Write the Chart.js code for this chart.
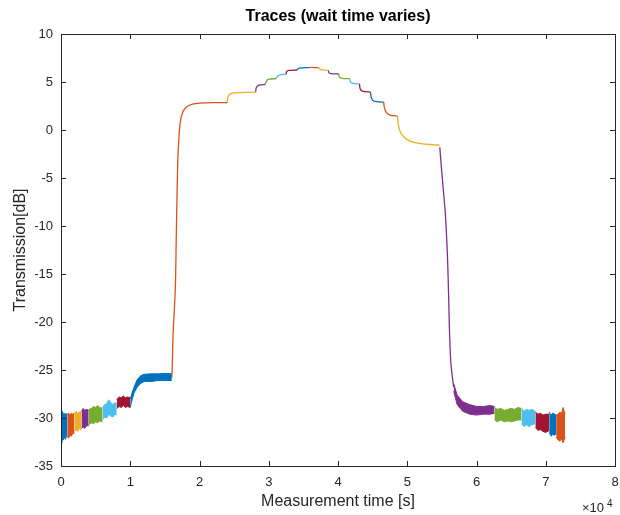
<!DOCTYPE html>
<html>
<head>
<meta charset="utf-8">
<script src="https://cdn.jsdelivr.net/npm/chart.js@4.4.1/dist/chart.umd.min.js"></script>
<style>
  body { margin: 0; background: #fff; }
  canvas { display: block; }
</style>
</head>
<body>
<canvas id="traceChart" width="620" height="515"></canvas>
<script>
// time in units of 1e4 s, transmission in dB
const xTicks = [0, 1, 2, 3, 4, 5, 6, 7, 8];
const yTicks = [-35, -30, -25, -20, -15, -10, -5, 0, 5, 10];

const BLUE = '#0072BD', ORANGE = '#D95319', YELLOW = '#EDB120', PURPLE = '#7E2F8E',
      GREEN = '#77AC30', CYAN = '#4DBEEE', RED = '#A2142F';

// noisy segments: x, upper envelope, lower envelope
const band1X = [0, 0.01, 0.02, 0.035, 0.045, 0.06, 0.07, 0.09];
const band1Hi = [-29.8, -29.6, -29.3, -29.7, -29.5, -29.8, -29.5, -29.7];
const band1Lo = [-32.0, -32.6, -32.1, -32.3, -31.9, -32.2, -31.8, -32.0];
const band2X = [0.09, 0.11, 0.13, 0.15, 0.17, 0.195];
const band2Hi = [-29.6, -29.5, -29.7, -29.5, -29.6, -29.5];
const band2Lo = [-31.9, -32.1, -31.8, -31.9, -31.6, -31.6];
const band3X = [0.195, 0.22, 0.24, 0.26, 0.295];
const band3Hi = [-29.5, -29.3, -29.5, -29.4, -29.3];
const band3Lo = [-31.4, -31.2, -31.4, -31.1, -31.2];
const band4X = [0.295, 0.32, 0.34, 0.37, 0.40];
const band4Hi = [-29.3, -29.0, -29.2, -29.1, -29.2];
const band4Lo = [-31.1, -30.9, -31.1, -30.8, -30.8];
const band5X = [0.40, 0.44, 0.47, 0.50, 0.53, 0.56, 0.60];
const band5Hi = [-29.1, -29.0, -28.8, -28.9, -28.7, -28.9, -29.0];
const band5Lo = [-30.7, -30.5, -30.6, -30.4, -30.5, -30.3, -30.4];
const band6X = [0.60, 0.63, 0.66, 0.69, 0.72, 0.75, 0.78, 0.805];
const band6Hi = [-28.9, -28.6, -28.5, -28.1, -28.4, -28.6, -28.4, -28.5];
const band6Lo = [-30.2, -29.9, -30.0, -29.6, -29.8, -29.9, -29.6, -29.7];
const band7X = [0.805, 0.84, 0.87, 0.9, 0.93, 0.96, 1.0];
const band7Hi = [-28.1, -27.8, -27.9, -27.7, -27.9, -27.8, -27.9];
const band7Lo = [-29.0, -28.8, -28.9, -28.7, -28.9, -28.8, -28.9];
const band8X = [1.0, 1.03, 1.06, 1.1, 1.15, 1.2, 1.3, 1.4, 1.5, 1.6];
const band8Hi = [-28.0, -27.3, -26.7, -26.0, -25.6, -25.45, -25.4, -25.4, -25.35, -25.4];
const band8Lo = [-28.9, -28.0, -27.3, -26.8, -26.4, -26.2, -26.2, -26.1, -26.1, -26.1];

const band9X = [5.67, 5.72, 5.8, 5.9, 6.0, 6.1, 6.2, 6.26];
const band9Hi = [-26.4, -27.6, -28.3, -28.6, -28.8, -28.8, -28.7, -28.8];
const band9Lo = [-27.2, -28.6, -29.3, -29.6, -29.7, -29.6, -29.6, -29.5];
const band10X = [6.26, 6.3, 6.35, 6.4, 6.45, 6.5, 6.55, 6.6, 6.65];
const band10Hi = [-28.9, -29.1, -29.0, -29.2, -29.1, -29.0, -29.1, -28.9, -29.0];
const band10Lo = [-30.2, -30.4, -30.2, -30.4, -30.3, -30.4, -30.3, -30.2, -30.2];
const band11X = [6.65, 6.69, 6.72, 6.76, 6.8, 6.85];
const band11Hi = [-29.0, -29.3, -29.1, -29.2, -29.1, -29.3];
const band11Lo = [-30.6, -30.9, -30.7, -30.9, -30.7, -30.6];
const band12X = [6.85, 6.89, 6.92, 6.96, 7.0, 7.05];
const band12Hi = [-29.4, -29.6, -29.5, -29.7, -29.6, -29.6];
const band12Lo = [-31.0, -31.3, -31.2, -31.4, -31.5, -31.3];
const band13X = [7.05, 7.08, 7.1, 7.13, 7.15];
const band13Hi = [-29.4, -29.7, -29.5, -29.6, -29.7];
const band13Lo = [-31.5, -31.9, -31.7, -31.8, -31.6];
const band14X = [7.15, 7.18, 7.2, 7.23, 7.25, 7.28];
const band14Hi = [-29.7, -29.6, -29.4, -29.5, -28.9, -29.6];
const band14Lo = [-32.0, -32.3, -32.4, -32.2, -32.6, -32.0];

// smooth segments
const seg1X = [1.6, 1.605, 1.62, 1.65, 1.665, 1.677, 1.69, 1.72, 1.76, 1.82, 1.9, 2.0, 2.2, 2.4];
const seg1Y = [-25.8, -25.0, -21.0, -16.7, -11.0, -6.3, -2.5, 0.7, 1.9, 2.45, 2.7, 2.8, 2.85, 2.85];
const seg2X = [2.4, 2.41, 2.43, 2.47, 2.6, 2.81];
const seg2Y = [2.85, 3.4, 3.7, 3.85, 3.9, 3.95];
const seg3X = [2.81, 2.82, 2.85, 2.95];
const seg3Y = [3.95, 4.4, 4.65, 4.75];
const seg4X = [2.95, 2.97, 3.0, 3.11];
const seg4Y = [4.75, 5.15, 5.3, 5.35];
const seg5X = [3.11, 3.13, 3.16, 3.25];
const seg5Y = [5.35, 5.65, 5.75, 5.8];
const seg6X = [3.25, 3.26, 3.29, 3.41];
const seg6Y = [5.8, 6.1, 6.2, 6.25];
const seg7X = [3.41, 3.43, 3.47, 3.58];
const seg7Y = [6.25, 6.42, 6.48, 6.5];
const seg8X = [3.58, 3.6, 3.72];
const seg8Y = [6.5, 6.52, 6.5];
const seg9X = [3.72, 3.74, 3.78, 3.86];
const seg9Y = [6.5, 6.32, 6.26, 6.22];
const seg10X = [3.86, 3.87, 3.9, 4.01];
const seg10Y = [6.22, 5.95, 5.88, 5.85];
const seg11X = [4.01, 4.02, 4.06, 4.17];
const seg11Y = [5.85, 5.5, 5.38, 5.35];
const seg12X = [4.17, 4.18, 4.22, 4.31];
const seg12Y = [5.35, 5.0, 4.85, 4.8];
const seg13X = [4.31, 4.32, 4.35, 4.47];
const seg13Y = [4.8, 4.3, 4.05, 3.95];
const seg14X = [4.47, 4.48, 4.51, 4.56, 4.66];
const seg14Y = [3.95, 3.4, 3.05, 2.95, 2.9];
const seg15X = [4.66, 4.67, 4.7, 4.75, 4.86];
const seg15Y = [2.9, 2.3, 1.8, 1.55, 1.45];
const seg16X = [4.86, 4.87, 4.9, 4.95, 5.0, 5.1, 5.2, 5.35, 5.47];
const seg16Y = [1.45, 0.6, -0.2, -0.7, -1.0, -1.3, -1.42, -1.52, -1.58];
const seg17X = [5.47, 5.5, 5.53, 5.55, 5.58, 5.6, 5.61, 5.63, 5.67];
const seg17Y = [-1.8, -4.5, -7.0, -8.7, -13.0, -18.0, -20.9, -24.3, -26.8];

const bands = [
  [band1X, band1Hi, band1Lo, BLUE], [band2X, band2Hi, band2Lo, ORANGE],
  [band3X, band3Hi, band3Lo, YELLOW], [band4X, band4Hi, band4Lo, PURPLE],
  [band5X, band5Hi, band5Lo, GREEN], [band6X, band6Hi, band6Lo, CYAN],
  [band7X, band7Hi, band7Lo, RED], [band8X, band8Hi, band8Lo, BLUE],
  [band9X, band9Hi, band9Lo, PURPLE], [band10X, band10Hi, band10Lo, GREEN],
  [band11X, band11Hi, band11Lo, CYAN], [band12X, band12Hi, band12Lo, RED],
  [band13X, band13Hi, band13Lo, BLUE], [band14X, band14Hi, band14Lo, ORANGE]
];
const segments = [
  [seg1X, seg1Y, ORANGE], [seg2X, seg2Y, YELLOW], [seg3X, seg3Y, PURPLE],
  [seg4X, seg4Y, GREEN], [seg5X, seg5Y, CYAN], [seg6X, seg6Y, RED],
  [seg7X, seg7Y, BLUE], [seg8X, seg8Y, ORANGE], [seg9X, seg9Y, YELLOW],
  [seg10X, seg10Y, PURPLE], [seg11X, seg11Y, GREEN], [seg12X, seg12Y, CYAN],
  [seg13X, seg13Y, RED], [seg14X, seg14Y, BLUE], [seg15X, seg15Y, ORANGE],
  [seg16X, seg16Y, YELLOW], [seg17X, seg17Y, PURPLE]
];

const zip = (xs, ys) => xs.map((x, i) => ({ x: x, y: ys[i] }));

const datasets = [];
bands.forEach(([xs, hi, lo, color]) => {
  datasets.push({ data: zip(xs, hi), borderColor: color, borderWidth: 1, fill: false });
  datasets.push({ data: zip(xs, lo), borderColor: color, borderWidth: 1, backgroundColor: color, fill: '-1' });
});
segments.forEach(([xs, ys, color]) => {
  datasets.push({ data: zip(xs, ys), borderColor: color, borderWidth: 1.3, fill: false, tension: 0.3 });
});

const FONT = "'Liberation Sans', Arial, sans-serif";
const INK = '#262626';

// MATLAB-like box with inward ticks and the x exponent
const boxPlugin = {
  id: 'boxPlugin',
  afterDraw(chart) {
    const { ctx, chartArea: a, scales } = chart;
    ctx.save();
    ctx.strokeStyle = INK;
    ctx.lineWidth = 1;
    ctx.strokeRect(Math.round(a.left) + 0.5, Math.round(a.top) + 0.5,
      Math.round(a.right - a.left), Math.round(a.bottom - a.top));
    const len = 5;
    ctx.beginPath();
    xTicks.forEach(v => {
      const px = Math.round(scales.x.getPixelForValue(v)) + 0.5;
      ctx.moveTo(px, a.bottom); ctx.lineTo(px, a.bottom - len);
      ctx.moveTo(px, a.top); ctx.lineTo(px, a.top + len);
    });
    yTicks.forEach(v => {
      const py = Math.round(scales.y.getPixelForValue(v)) + 0.5;
      ctx.moveTo(a.left, py); ctx.lineTo(a.left + len, py);
      ctx.moveTo(a.right, py); ctx.lineTo(a.right - len, py);
    });
    ctx.stroke();
    ctx.fillStyle = INK;
    ctx.textBaseline = 'alphabetic';
    ctx.font = '13px ' + FONT;
    ctx.fillText('\u00d710', 582, 512);
    ctx.font = '10px ' + FONT;
    ctx.fillText('4', 607, 507);
    ctx.restore();
  }
};

new Chart(document.getElementById('traceChart'), {
  type: 'line',
  data: { datasets: datasets },
  options: {
    responsive: false,
    animation: false,
    devicePixelRatio: 1,
    elements: { point: { radius: 0 } },
    layout: { padding: { left: 0, right: 5, top: 0, bottom: 0 } },
    plugins: {
      legend: { display: false },
      tooltip: { enabled: false },
      title: {
        display: true,
        fullSize: false,
        text: 'Traces (wait time varies)',
        color: '#000',
        font: { family: FONT, size: 16, weight: 'bold' },
        padding: { top: 7, bottom: 7.8 }
      }
    },
    scales: {
      x: {
        type: 'linear',
        min: 0, max: 8,
        afterFit: s => { s.height = 49; s.paddingLeft = 0; s.paddingRight = 0; },
        afterBuildTicks: s => { s.ticks = xTicks.map(v => ({ value: v })); },
        grid: { display: false, drawTicks: false },
        border: { display: false },
        ticks: { color: INK, padding: 9, font: { family: FONT, size: 13 }, maxRotation: 0 },
        title: {
          display: true, text: 'Measurement time [s]', color: INK,
          font: { family: FONT, size: 16 }, padding: { top: 4, bottom: 4 }
        }
      },
      y: {
        type: 'linear',
        min: -35, max: 10,
        afterFit: s => { s.width = 61; s.paddingTop = 0; s.paddingBottom = 0; },
        afterBuildTicks: s => { s.ticks = yTicks.map(v => ({ value: v })); },
        grid: { display: false, drawTicks: false },
        border: { display: false },
        ticks: { color: INK, padding: 8, font: { family: FONT, size: 13 } },
        title: {
          display: true, text: 'Transmission[dB]', color: INK,
          font: { family: FONT, size: 16 }, padding: { top: 11, bottom: 11 }
        }
      }
    }
  },
  plugins: [boxPlugin]
});
</script>
</body>
</html>
